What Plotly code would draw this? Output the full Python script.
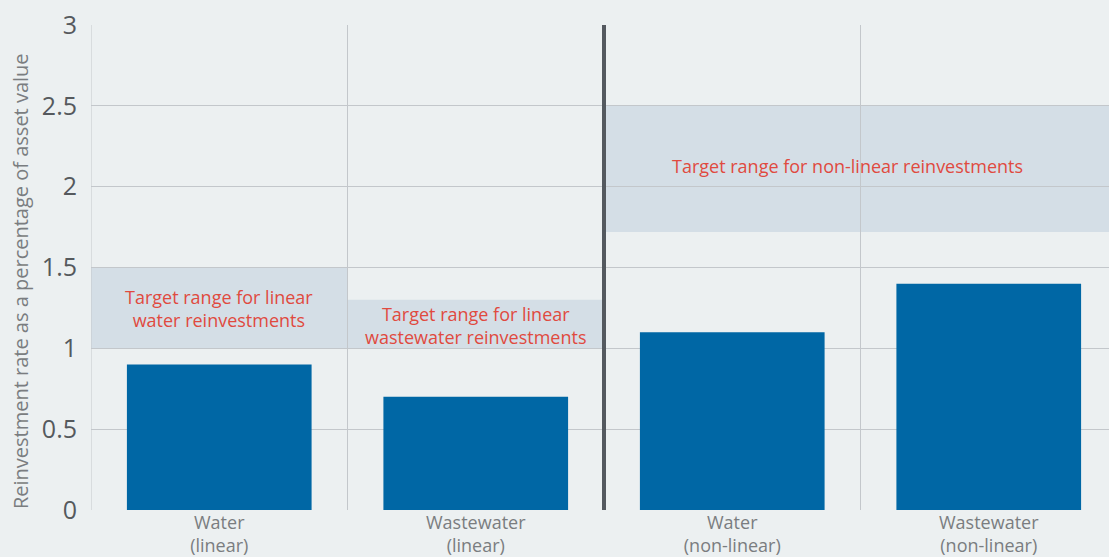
import plotly.graph_objects as go

categories = ["Water<br>(linear)", "Wastewater<br>(linear)", "Water<br>(non-linear)", "Wastewater<br>(non-linear)"]
values = [0.9, 0.7, 1.1, 1.4]
y_ticks = [0, 0.5, 1, 1.5, 2, 2.5, 3]
y_ticklabels = ["0", "0.5", "1", "1.5", "2", "2.5", "3"]
y_title = "Reinvestment rate as a percentage of asset value"

# target ranges
target_x0 = [-0.5, 0.5, 1.5]
target_x1 = [0.5, 1.5, 3.5]
target_low = [1.0, 1.0, 1.72]
target_high = [1.5, 1.3, 2.5]
target_labels = ["Target range for linear<br>water reinvestments",
                 "Target range for linear<br>wastewater reinvestments",
                 "Target range for non-linear reinvestments"]

BG = "#ECF0F1"
FONT = "Open Sans"

x_pos = list(range(len(categories)))

fig = go.Figure()
fig.add_trace(go.Bar(x=x_pos, y=values, width=0.72, marker=dict(color="#0067A5", line=dict(width=0)),
                     hoverinfo="y"))

shapes = []
for x0, x1, lo, hi in zip(target_x0, target_x1, target_low, target_high):
    shapes.append(dict(type="rect", xref="x", yref="y", x0=x0, x1=x1, y0=lo, y1=hi,
                       fillcolor="#D4DEE6", line=dict(width=0), layer="below"))
for gx in [-0.5, 0.5, 2.5, 3.5]:
    shapes.append(dict(type="line", xref="x", yref="y", x0=gx, x1=gx, y0=0, y1=3,
                       line=dict(color="#C3C7CB", width=1), layer="below"))
shapes.append(dict(type="line", xref="x", yref="y", x0=1.5, x1=1.5, y0=0, y1=3,
                   line=dict(color="#54595F", width=4), layer="above"))

# label placement (layout, not data)
label_x = [0.0, 1.0, 2.45]
label_y = [1.245, 1.14, 2.13]

annotations = []
for lab, lx, ly in zip(target_labels, label_x, label_y):
    annotations.append(dict(x=lx, y=ly, xref="x", yref="y", text=lab, showarrow=False,
                            font=dict(family=FONT, size=18, color="#E04A3F"), align="center"))
annotations.append(dict(x=-0.0692, y=0.472, xref="paper", yref="paper", text=y_title,
                        textangle=-90, showarrow=False, xanchor="center", yanchor="middle",
                        font=dict(family=FONT, size=20, color="#7A7D80")))

fig.update_layout(
    width=1117, height=557,
    margin=dict(l=91, r=0, t=25, b=44),
    paper_bgcolor=BG, plot_bgcolor=BG,
    showlegend=False,
    shapes=shapes, annotations=annotations,
    font=dict(family=FONT),
)
fig.update_xaxes(range=[-0.5, 3.5], tickvals=x_pos, ticktext=categories, showgrid=False,
                 zeroline=False, showline=False, ticks="",
                 tickfont=dict(family=FONT, size=18, color="#7A7D80"), fixedrange=True)
fig.update_yaxes(range=[0, 3], tickvals=y_ticks, ticktext=y_ticklabels, showgrid=True,
                 gridcolor="#C3C7CB", gridwidth=1, zeroline=False, showline=False, ticks="",
                 ticklabelstandoff=13,
                 tickfont=dict(family=FONT, size=25, color="#55595D"),
                 fixedrange=True)

fig.write_html("out.html", config={"displayModeBar": False},
               post_script="document.body.style.margin='0';document.body.style.overflow='hidden';")
